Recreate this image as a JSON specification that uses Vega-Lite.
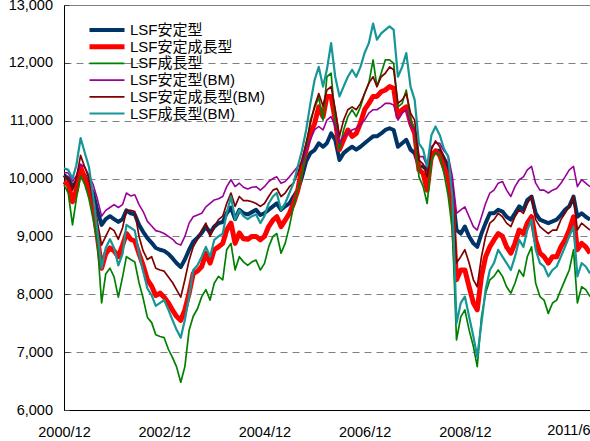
{
  "$schema": "https://vega.github.io/schema/vega-lite/v6.json",
  "width": 526,
  "height": 405,
  "autosize": "none",
  "padding": {"left": 64, "top": 5, "right": 0, "bottom": 31},
  "background": "white",
  "data": {
    "format": {"parse": {"d": "date"}},
    "values": [
      {"d":"2000-12-01","n":10060,"r":9950,"g":9890,"p":10100,"m":10050,"t":10180},
      {"d":"2001-01-01","n":10000,"r":9900,"g":9750,"p":10100,"m":10000,"t":10150},
      {"d":"2001-02-01","n":9850,"r":9600,"g":9200,"p":9950,"m":9800,"t":10000},
      {"d":"2001-03-01","n":9950,"r":9800,"g":9650,"p":10050,"m":10000,"t":10230},
      {"d":"2001-04-01","n":10150,"r":10200,"g":10050,"p":10250,"m":10400,"t":10700},
      {"d":"2001-05-01","n":10050,"r":10000,"g":9900,"p":10200,"m":10200,"t":10450},
      {"d":"2001-06-01","n":9900,"r":9800,"g":9650,"p":10050,"m":10000,"t":10200},
      {"d":"2001-07-01","n":9750,"r":9550,"g":9300,"p":9900,"m":9600,"t":9700},
      {"d":"2001-08-01","n":9450,"r":9000,"g":8900,"p":9650,"m":9250,"t":9100},
      {"d":"2001-09-01","n":9200,"r":8450,"g":7850,"p":9350,"m":8850,"t":8450},
      {"d":"2001-10-01","n":9300,"r":8700,"g":8350,"p":9450,"m":9000,"t":8800},
      {"d":"2001-11-01","n":9350,"r":8800,"g":8450,"p":9500,"m":9150,"t":8950},
      {"d":"2001-12-01","n":9300,"r":8750,"g":8300,"p":9550,"m":9100,"t":8800},
      {"d":"2002-01-01","n":9250,"r":8650,"g":7950,"p":9500,"m":8950,"t":8500},
      {"d":"2002-02-01","n":9300,"r":8850,"g":8300,"p":9550,"m":9150,"t":8700},
      {"d":"2002-03-01","n":9450,"r":9050,"g":8650,"p":9750,"m":9450,"t":9200},
      {"d":"2002-04-01","n":9400,"r":8950,"g":8600,"p":9700,"m":9450,"t":9150},
      {"d":"2002-05-01","n":9380,"r":8920,"g":8560,"p":9720,"m":9430,"t":9100},
      {"d":"2002-06-01","n":9200,"r":8700,"g":8200,"p":9550,"m":9000,"t":8700},
      {"d":"2002-07-01","n":9080,"r":8500,"g":7930,"p":9430,"m":8750,"t":8400},
      {"d":"2002-08-01","n":8970,"r":8250,"g":7600,"p":9260,"m":8600,"t":8100},
      {"d":"2002-09-01","n":8890,"r":8140,"g":7510,"p":9180,"m":8650,"t":7980},
      {"d":"2002-10-01","n":8800,"r":7980,"g":7300,"p":9100,"m":8450,"t":7800},
      {"d":"2002-11-01","n":8770,"r":8020,"g":7270,"p":9080,"m":8420,"t":7850},
      {"d":"2002-12-01","n":8750,"r":7950,"g":7250,"p":9050,"m":8400,"t":7900},
      {"d":"2003-01-01","n":8700,"r":7850,"g":7050,"p":9000,"m":8300,"t":7730},
      {"d":"2003-02-01","n":8620,"r":7720,"g":6900,"p":8950,"m":8200,"t":7550},
      {"d":"2003-03-01","n":8540,"r":7620,"g":6750,"p":8880,"m":8080,"t":7390},
      {"d":"2003-04-01","n":8470,"r":7550,"g":6480,"p":8850,"m":7950,"t":7250},
      {"d":"2003-05-01","n":8600,"r":7730,"g":6750,"p":9000,"m":8250,"t":7560},
      {"d":"2003-06-01","n":8770,"r":8020,"g":7380,"p":9230,"m":8590,"t":7960},
      {"d":"2003-07-01","n":8910,"r":8360,"g":7620,"p":9340,"m":8820,"t":8420},
      {"d":"2003-08-01","n":8980,"r":8400,"g":7750,"p":9370,"m":8950,"t":8500},
      {"d":"2003-09-01","n":9060,"r":8480,"g":7960,"p":9400,"m":9110,"t":8650},
      {"d":"2003-10-01","n":9170,"r":8710,"g":8080,"p":9510,"m":9230,"t":8820},
      {"d":"2003-11-01","n":9060,"r":8540,"g":7900,"p":9570,"m":9000,"t":8650},
      {"d":"2003-12-01","n":9170,"r":8770,"g":8190,"p":9630,"m":9170,"t":8940},
      {"d":"2004-01-01","n":9230,"r":8820,"g":8310,"p":9650,"m":9290,"t":9000},
      {"d":"2004-02-01","n":9250,"r":8880,"g":8250,"p":9690,"m":9350,"t":9050},
      {"d":"2004-03-01","n":9400,"r":9110,"g":8770,"p":9860,"m":9570,"t":9400},
      {"d":"2004-04-01","n":9500,"r":9230,"g":8880,"p":9980,"m":9750,"t":9690},
      {"d":"2004-05-01","n":9300,"r":8880,"g":8420,"p":9860,"m":9520,"t":9290},
      {"d":"2004-06-01","n":9460,"r":9060,"g":8650,"p":9920,"m":9690,"t":9460},
      {"d":"2004-07-01","n":9400,"r":8960,"g":8560,"p":9850,"m":9620,"t":9350},
      {"d":"2004-08-01","n":9380,"r":8950,"g":8500,"p":9820,"m":9620,"t":9300},
      {"d":"2004-09-01","n":9420,"r":9000,"g":8560,"p":9850,"m":9600,"t":9350},
      {"d":"2004-10-01","n":9460,"r":9000,"g":8590,"p":9860,"m":9570,"t":9380},
      {"d":"2004-11-01","n":9370,"r":8940,"g":8420,"p":9800,"m":9520,"t":9230},
      {"d":"2004-12-01","n":9400,"r":9000,"g":8530,"p":9860,"m":9570,"t":9350},
      {"d":"2005-01-01","n":9460,"r":9170,"g":8820,"p":9950,"m":9690,"t":9570},
      {"d":"2005-02-01","n":9520,"r":9280,"g":9000,"p":10000,"m":9800,"t":9690},
      {"d":"2005-03-01","n":9570,"r":9340,"g":9050,"p":10030,"m":9830,"t":9750},
      {"d":"2005-04-01","n":9460,"r":9170,"g":8710,"p":9920,"m":9690,"t":9460},
      {"d":"2005-05-01","n":9520,"r":9280,"g":8880,"p":9950,"m":9750,"t":9570},
      {"d":"2005-06-01","n":9570,"r":9400,"g":9170,"p":10030,"m":9860,"t":9750},
      {"d":"2005-07-01","n":9690,"r":9570,"g":9520,"p":10120,"m":9920,"t":9920},
      {"d":"2005-08-01","n":9800,"r":9800,"g":9800,"p":10210,"m":10090,"t":10210},
      {"d":"2005-09-01","n":10030,"r":10210,"g":10090,"p":10260,"m":10320,"t":10490},
      {"d":"2005-10-01","n":10300,"r":10490,"g":10490,"p":10490,"m":10610,"t":10840},
      {"d":"2005-11-01","n":10440,"r":10780,"g":11010,"p":10670,"m":10950,"t":11300},
      {"d":"2005-12-01","n":10490,"r":10950,"g":11220,"p":10840,"m":11250,"t":11700},
      {"d":"2006-01-01","n":10610,"r":11240,"g":11400,"p":10900,"m":11470,"t":11930},
      {"d":"2006-02-01","n":10550,"r":11070,"g":11010,"p":10840,"m":11250,"t":11590},
      {"d":"2006-03-01","n":10610,"r":11420,"g":11760,"p":11010,"m":11530,"t":11880},
      {"d":"2006-04-01","n":10780,"r":11420,"g":11820,"p":11070,"m":11590,"t":12340},
      {"d":"2006-05-01","n":10670,"r":11010,"g":11010,"p":10900,"m":11190,"t":11760},
      {"d":"2006-06-01","n":10320,"r":10500,"g":10500,"p":10610,"m":10730,"t":11420},
      {"d":"2006-07-01","n":10440,"r":10670,"g":10840,"p":10730,"m":11010,"t":11590},
      {"d":"2006-08-01","n":10500,"r":10840,"g":11070,"p":10780,"m":11190,"t":11760},
      {"d":"2006-09-01","n":10550,"r":10730,"g":11190,"p":10840,"m":11240,"t":11880},
      {"d":"2006-10-01","n":10500,"r":10780,"g":11070,"p":10870,"m":11190,"t":11760},
      {"d":"2006-11-01","n":10550,"r":10960,"g":11240,"p":10930,"m":11300,"t":11930},
      {"d":"2006-12-01","n":10610,"r":11190,"g":11470,"p":11010,"m":11470,"t":12170},
      {"d":"2007-01-01","n":10670,"r":11300,"g":11650,"p":11130,"m":11650,"t":12340},
      {"d":"2007-02-01","n":10730,"r":11420,"g":12050,"p":11190,"m":11760,"t":12680},
      {"d":"2007-03-01","n":10730,"r":11420,"g":11590,"p":11190,"m":11590,"t":12400},
      {"d":"2007-04-01","n":10780,"r":11500,"g":11820,"p":11240,"m":11760,"t":12510},
      {"d":"2007-05-01","n":10840,"r":11530,"g":12050,"p":11300,"m":11820,"t":12570},
      {"d":"2007-06-01","n":10870,"r":11590,"g":12050,"p":11300,"m":11930,"t":12630},
      {"d":"2007-07-01","n":10840,"r":11560,"g":11990,"p":11270,"m":11880,"t":12570},
      {"d":"2007-08-01","n":10550,"r":11070,"g":11240,"p":11010,"m":11300,"t":11760},
      {"d":"2007-09-01","n":10610,"r":11190,"g":11300,"p":11130,"m":11360,"t":11930},
      {"d":"2007-10-01","n":10670,"r":11240,"g":11530,"p":11190,"m":11470,"t":12170},
      {"d":"2007-11-01","n":10500,"r":10960,"g":11010,"p":10900,"m":11130,"t":11590},
      {"d":"2007-12-01","n":10440,"r":10780,"g":10840,"p":10840,"m":11010,"t":11360},
      {"d":"2008-01-01","n":10210,"r":10150,"g":10030,"p":10380,"m":10320,"t":10610},
      {"d":"2008-02-01","n":10210,"r":10090,"g":9860,"p":10380,"m":10250,"t":10500},
      {"d":"2008-03-01","n":10150,"r":9800,"g":9570,"p":10210,"m":10030,"t":10210},
      {"d":"2008-04-01","n":10400,"r":10400,"g":10300,"p":10550,"m":10500,"t":10750},
      {"d":"2008-05-01","n":10480,"r":10480,"g":10450,"p":10620,"m":10650,"t":10900},
      {"d":"2008-06-01","n":10480,"r":10400,"g":10400,"p":10610,"m":10550,"t":10750},
      {"d":"2008-07-01","n":10350,"r":10200,"g":10100,"p":10480,"m":10350,"t":10520},
      {"d":"2008-08-01","n":10200,"r":10000,"g":9700,"p":10400,"m":10260,"t":10380},
      {"d":"2008-09-01","n":9750,"r":9520,"g":9110,"p":10030,"m":9800,"t":9690},
      {"d":"2008-10-01","n":9110,"r":8250,"g":7210,"p":9400,"m":8540,"t":7500},
      {"d":"2008-11-01","n":9050,"r":8420,"g":7610,"p":9460,"m":8650,"t":7850},
      {"d":"2008-12-01","n":9170,"r":8420,"g":7730,"p":9510,"m":8770,"t":7960},
      {"d":"2009-01-01","n":9000,"r":8130,"g":7380,"p":9340,"m":8540,"t":7610},
      {"d":"2009-02-01","n":8880,"r":7850,"g":7100,"p":9170,"m":8250,"t":7270},
      {"d":"2009-03-01","n":8820,"r":7730,"g":6750,"p":9110,"m":8130,"t":6920},
      {"d":"2009-04-01","n":9050,"r":8310,"g":7610,"p":9340,"m":8650,"t":7500},
      {"d":"2009-05-01","n":9230,"r":8650,"g":8020,"p":9570,"m":9000,"t":8080},
      {"d":"2009-06-01","n":9400,"r":8820,"g":8250,"p":9750,"m":9230,"t":8420},
      {"d":"2009-07-01","n":9400,"r":8940,"g":8310,"p":9800,"m":9290,"t":8540},
      {"d":"2009-08-01","n":9460,"r":9050,"g":8420,"p":9920,"m":9400,"t":8770},
      {"d":"2009-09-01","n":9430,"r":9000,"g":8310,"p":9950,"m":9340,"t":8650},
      {"d":"2009-10-01","n":9340,"r":8820,"g":8130,"p":9800,"m":9230,"t":8540},
      {"d":"2009-11-01","n":9290,"r":8710,"g":8020,"p":9690,"m":9170,"t":8420},
      {"d":"2009-12-01","n":9400,"r":8880,"g":8190,"p":9860,"m":9340,"t":8650},
      {"d":"2010-01-01","n":9520,"r":9110,"g":8420,"p":9980,"m":9460,"t":8940},
      {"d":"2010-02-01","n":9460,"r":9050,"g":8310,"p":10030,"m":9400,"t":8820},
      {"d":"2010-03-01","n":9630,"r":9230,"g":8650,"p":10150,"m":9570,"t":9110},
      {"d":"2010-04-01","n":9690,"r":9340,"g":8820,"p":10210,"m":9690,"t":9290},
      {"d":"2010-05-01","n":9400,"r":8940,"g":8190,"p":9920,"m":9290,"t":8770},
      {"d":"2010-06-01","n":9290,"r":8710,"g":7960,"p":9800,"m":9170,"t":8540},
      {"d":"2010-07-01","n":9260,"r":8650,"g":7900,"p":9800,"m":9110,"t":8480},
      {"d":"2010-08-01","n":9230,"r":8540,"g":7670,"p":9750,"m":9050,"t":8310},
      {"d":"2010-09-01","n":9260,"r":8650,"g":7850,"p":9800,"m":9110,"t":8420},
      {"d":"2010-10-01","n":9290,"r":8650,"g":7900,"p":9830,"m":9110,"t":8480},
      {"d":"2010-11-01","n":9370,"r":8820,"g":8080,"p":9920,"m":9290,"t":8650},
      {"d":"2010-12-01","n":9460,"r":8940,"g":8250,"p":10030,"m":9400,"t":8820},
      {"d":"2011-01-01","n":9520,"r":9110,"g":8420,"p":10150,"m":9520,"t":9000},
      {"d":"2011-02-01","n":9690,"r":9340,"g":8770,"p":10210,"m":9690,"t":9170},
      {"d":"2011-03-01","n":9340,"r":8770,"g":7850,"p":9860,"m":9110,"t":8310},
      {"d":"2011-04-01","n":9400,"r":8880,"g":8130,"p":9980,"m":9230,"t":8540},
      {"d":"2011-05-01","n":9340,"r":8820,"g":8080,"p":9920,"m":9170,"t":8480},
      {"d":"2011-06-01","n":9290,"r":8710,"g":7960,"p":9860,"m":9110,"t":8360}
    ]
  },
  "transform": [
    {"fold": ["n", "r", "g", "p", "m", "t"], "as": ["k", "v"]},
    {
      "lookup": "k",
      "from": {
        "data": {"values": [
          {"k": "n", "s": "LSF安定型"},
          {"k": "r", "s": "LSF安定成長型"},
          {"k": "g", "s": "LSF成長型"},
          {"k": "p", "s": "LSF安定型(BM)"},
          {"k": "m", "s": "LSF安定成長型(BM)"},
          {"k": "t", "s": "LSF成長型(BM)"}
        ]},
        "key": "k",
        "fields": ["s"]
      }
    }
  ],
  "mark": {"type": "line", "interpolate": "linear", "strokeJoin": "round"},
  "encoding": {
    "x": {
      "field": "d",
      "type": "temporal",
      "title": null,
      "scale": {
        "type": "utc",
        "domain": [
          {"year": 2000, "month": 12, "date": 1, "utc": true},
          {"year": 2011, "month": 6, "date": 1, "utc": true}
        ]
      },
      "axis": {
        "values": [
          {"year": 2000, "month": 12, "date": 1, "utc": true},
          {"year": 2002, "month": 12, "date": 1, "utc": true},
          {"year": 2004, "month": 12, "date": 1, "utc": true},
          {"year": 2006, "month": 12, "date": 1, "utc": true},
          {"year": 2008, "month": 12, "date": 1, "utc": true},
          {"year": 2011, "month": 6, "date": 1, "utc": true}
        ],
        "labelExpr": "utcFormat(datum.value, '%Y/%-m')",
        "labelFlush": false,
        "labelOverlap": false,
        "ticks": false,
        "grid": false,
        "labelAlign": {"condition": {"test": "utcyear(datum.value) == 2011", "value": "right"}, "value": "center"},
        "labelPadding": {"condition": {"test": "utcyear(datum.value) == 2011", "value": 13}, "value": 15},
        "labelBaseline": "top"
      }
    },
    "y": {
      "field": "v",
      "type": "quantitative",
      "title": null,
      "scale": {"domain": [6000, 13000], "nice": false, "zero": false},
      "axis": {
        "values": [6000, 7000, 8000, 9000, 10000, 11000, 12000, 13000],
        "format": ",.0f",
        "grid": true,
        "gridDash": [7, 5],
        "gridColor": "#808080",
        "gridWidth": 1,
        "ticks": true,
        "tickSize": -5,
        "tickColor": "#404040",
        "labelPadding": 16.5
      }
    },
    "color": {
      "field": "s",
      "type": "nominal",
      "scale": {
        "domain": ["LSF安定型", "LSF安定成長型", "LSF成長型", "LSF安定型(BM)", "LSF安定成長型(BM)", "LSF成長型(BM)"],
        "range": ["#003366", "#ff0000", "#008000", "#990099", "#800000", "#169696"]
      },
      "legend": {
        "orient": "none",
        "legendX": 23,
        "legendY": 17,
        "title": null,
        "symbolType": "stroke",
        "symbolSize": 1225,
        "clipHeight": 16,
        "rowPadding": 0.7,
        "labelFontSize": 15,
        "labelFont": "Liberation Sans, Noto Sans CJK JP",
        "labelColor": "#000000",
        "labelOffset": 3,
        "labelLimit": 0
      }
    },
    "strokeWidth": {
      "field": "s",
      "type": "nominal",
      "scale": {
        "type": "ordinal",
        "domain": ["LSF安定型", "LSF安定成長型", "LSF成長型", "LSF安定型(BM)", "LSF安定成長型(BM)", "LSF成長型(BM)"],
        "range": [4, 5, 1.7, 1.6, 1.7, 2.2]
      }
    }
  },
  "config": {
    "view": {"stroke": "#808080", "strokeWidth": 1},
    "axis": {
      "labelFont": "Liberation Sans",
      "labelFontSize": 14.5,
      "labelColor": "#000000",
      "domainColor": "#000000",
      "domainWidth": 1
    }
  }
}
